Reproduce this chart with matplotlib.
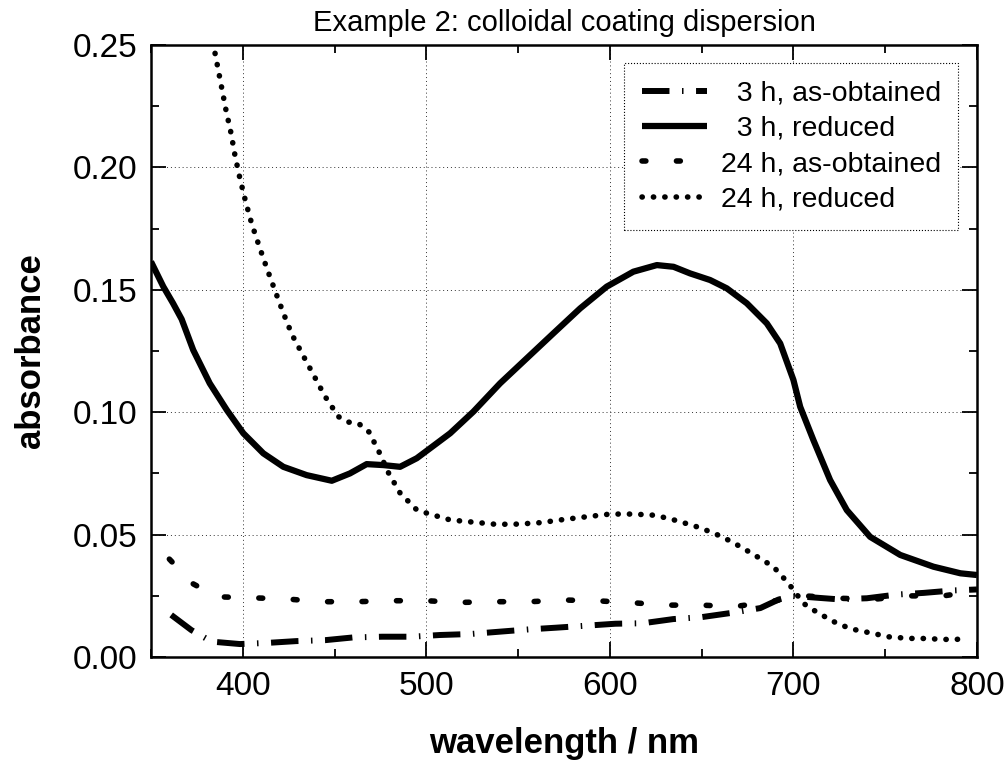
"""Absorbance spectra of the colloidal coating dispersion (example 2)."""
import matplotlib
matplotlib.use("Agg")
from matplotlib import pyplot as plt
from matplotlib.ticker import MultipleLocator

plt.rcParams["font.family"] = ["Liberation Sans", "DejaVu Sans"]

# 3 h, reduced (solid)
WL_3H_RED = [350, 356.7, 362, 366.7, 373, 382, 391.3, 400.3, 411.2, 422.1,
             434.8, 448.5, 458.4, 467.5, 476.6, 485.7, 494.8, 505.7, 513,
             525.6, 540.2, 554.7, 569.2, 583.8, 598.3, 612.8, 625.6, 634.7,
             643.7, 654.6, 663.7, 674.6, 685.5, 692.8, 700, 703.7, 710.9, 720,
             729.1, 741.8, 758.2, 776.3, 791, 800]
AB_3H_RED = [0.1615, 0.1513, 0.1445, 0.1380, 0.1254, 0.1118, 0.1009, 0.0914,
             0.0832, 0.0777, 0.0743, 0.0720, 0.0750, 0.0788, 0.0784, 0.0777,
             0.0812, 0.0873, 0.0914, 0.1002, 0.1118, 0.1220, 0.1322, 0.1424,
             0.1513, 0.1574, 0.1601, 0.1594, 0.1567, 0.1540, 0.1506, 0.1445,
             0.1363, 0.1281, 0.1132, 0.1022, 0.0886, 0.0723, 0.0600, 0.0491,
             0.0417, 0.0369, 0.0342, 0.0335]

# 24 h, reduced (dotted)
WL_24H_RED = [384.9, 388.5, 390.9, 393.6, 395.8, 398.5, 401.6, 404.9, 408.9,
              413.2, 417.6, 421.9, 426.8, 432.7, 438.8, 444.7, 452.1, 457.4,
              463.4, 468.8, 474.3, 479.2, 485.7, 494.8, 501, 513, 525.5, 538,
              550, 562.4, 575, 587.4, 600.1, 612.8, 624.8, 636.5, 648.3, 657,
              666.4, 677.4, 689.1, 697.3, 705.5, 710.9, 715.5, 720.9, 727.3,
              732.7, 739.1, 745.5, 751.2, 757.8, 764, 770, 776.3, 782.7,
              788.7, 794.8]
AB_24H_RED = [0.2466, 0.2326, 0.2232, 0.2140, 0.2047, 0.1953, 0.1859, 0.1769,
              0.1679, 0.1586, 0.1496, 0.1409, 0.1317, 0.1234, 0.1149, 0.1066,
              0.0982, 0.0960, 0.0952, 0.0919, 0.0837, 0.0755, 0.0670, 0.0601,
              0.0586, 0.0560, 0.0551, 0.0542, 0.0543, 0.0549, 0.0562, 0.0573,
              0.0584, 0.0584, 0.0579, 0.0557, 0.0530, 0.0505, 0.0471, 0.0423,
              0.0369, 0.0301, 0.0219, 0.0192, 0.0172, 0.0148, 0.0127, 0.0113,
              0.0103, 0.0093, 0.0083, 0.0079, 0.0076, 0.0076, 0.0074, 0.0072,
              0.0072, 0.0076]

# 3 h, as-obtained (long dash)
WL_3H_AS = [361, 372, 383, 398.5, 414, 429, 445, 460, 476, 492, 507.5, 524,
            539, 556, 571, 603, 618, 634.5, 650, 666, 682, 692, 700, 708, 724,
            740, 756, 771, 787, 800]
AB_3H_AS = [0.0172, 0.0110, 0.0063, 0.0053, 0.0058, 0.0065, 0.0069, 0.0080,
            0.0083, 0.0083, 0.0090, 0.0094, 0.0103, 0.0113, 0.0120, 0.0136,
            0.0138, 0.0155, 0.0163, 0.0180, 0.0200, 0.0235, 0.0250, 0.0245,
            0.0236, 0.0240, 0.0255, 0.0262, 0.0272, 0.0276]

# 24 h, as-obtained (short dash)
WL_24H_AS = [360, 372.7, 386, 405, 424, 443, 462, 481, 500, 518, 537.5,
             556.5, 575, 594.6, 612, 631, 650, 668, 687, 706, 725, 744, 762,
             781, 800]
AB_24H_AS = [0.0400, 0.0300, 0.0246, 0.0242, 0.0237, 0.0226, 0.0226, 0.0230,
             0.0230, 0.0223, 0.0226, 0.0226, 0.0233, 0.0229, 0.0222, 0.0212,
             0.0212, 0.0206, 0.0226, 0.0250, 0.0240, 0.0236, 0.0250, 0.0249,
             0.0270]

fig = plt.figure(figsize=(10.08, 7.77), dpi=100)
ax = fig.add_axes([0.1498, 0.1544, 0.8194, 0.7877])

ax.plot(WL_3H_AS, AB_3H_AS, color="black", lw=4.3,
        linestyle=(0, (4.6, 2.1, 0.25, 2.1)), dash_capstyle="butt",
        label="  3 h, as-obtained")
ax.plot(WL_3H_RED, AB_3H_RED, color="black", lw=4.5,
        solid_capstyle="butt", label="  3 h, reduced")
ax.plot(WL_24H_AS, AB_24H_AS, color="black", lw=4.0,
        linestyle=(0, (0.7, 5.5)), dash_capstyle="round",
        label="24 h, as-obtained")
ax.plot(WL_24H_RED, AB_24H_RED, color="black", lw=4.0,
        linestyle=(0, (0.05, 2.0)), dash_capstyle="round",
        label="24 h, reduced")

ax.set_xlim(350, 800)
ax.set_ylim(0, 0.25)
ax.xaxis.set_major_locator(MultipleLocator(100))
ax.xaxis.set_minor_locator(MultipleLocator(50))
ax.yaxis.set_major_locator(MultipleLocator(0.05))
ax.yaxis.set_minor_locator(MultipleLocator(0.025))
ax.yaxis.set_major_formatter(lambda v, p: f"{v:.2f}")

ax.tick_params(which="both", direction="in", top=True, right=True,
               labelsize=24, width=1.3, pad=10)
ax.tick_params(which="major", length=11)
ax.tick_params(which="minor", length=6)
for sp in ax.spines.values():
    sp.set_linewidth(1.8)

ax.grid(True, which="major", linestyle=(0, (1, 3)), color="#333333", lw=0.7)

ax.set_title("Example 2: colloidal coating dispersion", fontsize=21, pad=10)
ax.set_xlabel("wavelength / nm", fontsize=25, fontweight="bold", labelpad=18)
ax.set_ylabel("absorbance", fontsize=25, fontweight="bold", labelpad=18)

leg = ax.legend(loc="upper right", fontsize=20.5, handlelength=2.3,
                handletextpad=0.5, labelspacing=0.33, borderaxespad=0.65,
                borderpad=0.6, fancybox=False, framealpha=1)
leg.get_frame().set_edgecolor("black")
leg.get_frame().set_linewidth(0.8)
leg.get_frame().set_linestyle(":")

fig.savefig("out.png", dpi=100)
